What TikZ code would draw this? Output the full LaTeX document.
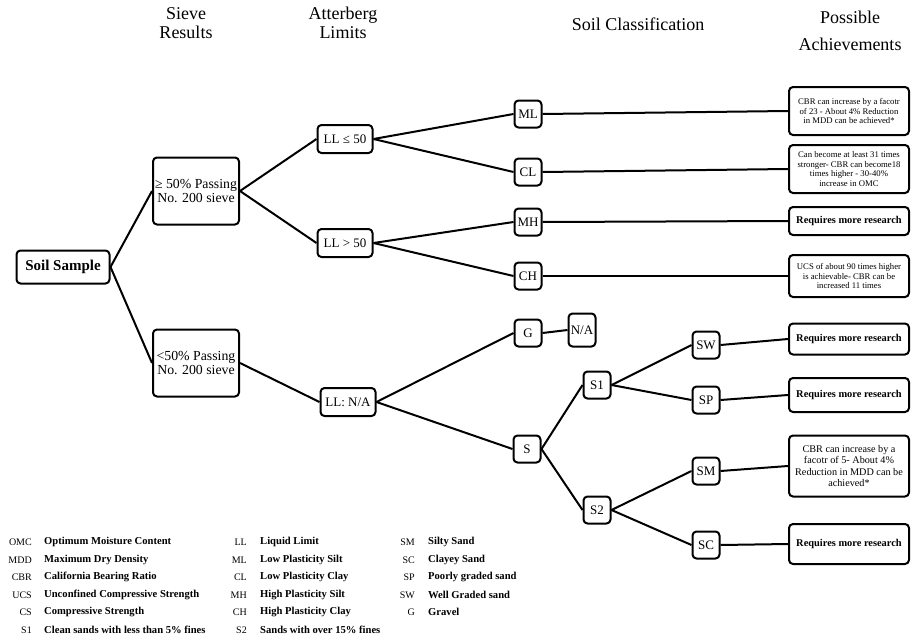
\documentclass[tikz,border=0pt]{standalone}
\usepackage{fontspec}
\setmainfont{Liberation Serif}
\usetikzlibrary{positioning}
\tikzset{
    box/.style={
        rectangle, rounded corners=4pt, draw=black, line width=2pt,
        inner sep=1pt, align=center, font=\fontsize{13}{13.5}\selectfont
    },
    rootbox/.style={box, minimum width=93pt, minimum height=33pt, font=\fontsize{15}{15}\selectfont\bfseries},
    sievebox/.style={box, minimum width=86pt, minimum height=67pt, font=\fontsize{13.8}{14}\selectfont},
    llbox/.style={box, minimum width=55pt, minimum height=28pt},
    classbox/.style={box, minimum width=27pt, minimum height=27pt},
    resbox/.style={box, minimum width=120pt, font=\fontsize{8.7}{9.4}\selectfont},
    morebox/.style={resbox, font=\fontsize{10.4}{11}\selectfont\bfseries},
    link/.style={line width=2pt},
    head/.style={font=\fontsize{18}{19}\selectfont, align=center},
    abbr/.style={anchor=east, inner sep=0pt, font=\fontsize{10}{11}\selectfont},
    desc/.style={anchor=west, inner sep=0pt, font=\fontsize{10.6}{11}\selectfont\bfseries},
}
\begin{document}
\begin{tikzpicture}[x=1pt, y=-1pt]
    \useasboundingbox (0,0) rectangle (911,640);

    % column headings
    \node[head] (hsieve) at (186, 23) {Sieve\\Results};
    \node[head] (hatter) at (343, 23) {Atterberg\\Limits};
    \node[head] (hclass) at (638, 24) {Soil Classification};
    \node[head, font=\fontsize{18}{27}\selectfont] (hposs) at (850, 31) {Possible\\Achievements};

    % tree
    \node[rootbox] (soil) at (63, 267) {Soil Sample};
    \node[sievebox] (fine) at (196, 191) {≥ 50\% Passing\\No. 200 sieve};
    \node[sievebox] (coarse) at (196, 363) {<50\% Passing\\No. 200 sieve};
    \node[llbox] (lllow) at (345, 139) {LL ≤ 50};
    \node[llbox] (llhigh) at (345, 243) {LL > 50};
    \node[llbox] (llna) at (348, 402) {LL: N/A};

    \node[classbox] (ml) at (528, 114) {ML};
    \node[classbox] (cl) at (528, 172) {CL};
    \node[classbox] (mh) at (528, 222) {MH};
    \node[classbox] (ch) at (528, 276) {CH};
    \node[classbox] (g) at (528, 333) {G};
    \node[classbox, minimum height=33pt] (gna) at (582, 330) {N/A};
    \node[classbox] (s) at (527, 449) {S};
    \node[classbox] (sone) at (597, 385) {S1};
    \node[classbox] (stwo) at (597, 510) {S2};
    \node[classbox] (sw) at (706, 345) {SW};
    \node[classbox] (sp) at (706, 400) {SP};
    \node[classbox] (sm) at (706, 471) {SM};
    \node[classbox] (sc) at (706, 545) {SC};

    % achievements
    \node[resbox, minimum height=48pt] (mlres) at (849, 111) {CBR can increase by a facotr\\of 23 - About 4\% Reduction\\in MDD can be achieved*};
    \node[resbox, minimum height=48pt] (clres) at (849, 169) {Can become at least 31 times\\stronger- CBR can become18\\times higher - 30-40\%\\increase in OMC};
    \node[morebox, minimum height=28pt] (mhres) at (849, 221) {Requires more research};
    \node[resbox, minimum height=42pt] (chres) at (849, 276) {UCS of about 90 times higher\\is achievable- CBR can be\\increased 11 times};
    \node[morebox, minimum height=31pt] (swres) at (849, 339) {Requires more research};
    \node[morebox, minimum height=34pt] (spres) at (849, 395) {Requires more research};
    \node[resbox, minimum height=61pt, font=\fontsize{10.2}{11.5}\selectfont] (smres) at (849, 466) {CBR can increase by a\\facotr of 5- About 4\%\\Reduction in MDD can be\\achieved*};
    \node[morebox, minimum height=40pt] (scres) at (849, 544) {Requires more research};

    \draw[link] (soil.east) -- (fine.west);
    \draw[link] (soil.east) -- (coarse.west);
    \draw[link] (fine.east) -- (lllow.west);
    \draw[link] (fine.east) -- (llhigh.west);
    \draw[link] (coarse.east) -- (llna.west);
    \draw[link] (lllow.east) -- (ml.west);
    \draw[link] (lllow.east) -- (cl.west);
    \draw[link] (llhigh.east) -- (mh.west);
    \draw[link] (llhigh.east) -- (ch.west);
    \draw[link] (llna.east) -- (g.west);
    \draw[link] (llna.east) -- (s.west);
    \draw[link] (g.east) -- (gna.west);
    \draw[link] (s.east) -- (sone.west);
    \draw[link] (s.east) -- (stwo.west);
    \draw[link] (sone.east) -- (sw.west);
    \draw[link] (sone.east) -- (sp.west);
    \draw[link] (stwo.east) -- (sm.west);
    \draw[link] (stwo.east) -- (sc.west);
    \draw[link] (ml.east) -- (mlres.west);
    \draw[link] (cl.east) -- (clres.west);
    \draw[link] (mh.east) -- (mhres.west);
    \draw[link] (ch.east) -- (chres.west);
    \draw[link] (sw.east) -- (swres.west);
    \draw[link] (sp.east) -- (spres.west);
    \draw[link] (sm.east) -- (smres.west);
    \draw[link] (sc.east) -- (scres.west);

    % legend
    \node[abbr] (omca) at (32, 542) {OMC};
    \node[desc] (omcd) at (44, 542) {Optimum Moisture Content};
    \node[abbr] (mdda) at (32, 560) {MDD};
    \node[desc] (mddd) at (44, 560) {Maximum Dry Density};
    \node[abbr] (cbra) at (32, 577) {CBR};
    \node[desc] (cbrd) at (44, 577) {California Bearing Ratio};
    \node[abbr] (ucsa) at (32, 595) {UCS};
    \node[desc] (ucsd) at (44, 595) {Unconfined Compressive Strength};
    \node[abbr] (csa) at (32, 612) {CS};
    \node[desc] (csd) at (44, 612) {Compressive Strength};
    \node[abbr] (sonea) at (32, 630) {S1};
    \node[desc] (soned) at (44, 630) {Clean sands with less than 5\% fines};

    \node[abbr] (lla) at (247, 542) {LL};
    \node[desc] (lld) at (260, 542) {Liquid Limit};
    \node[abbr] (mla) at (247, 560) {ML};
    \node[desc] (mld) at (260, 560) {Low Plasticity Silt};
    \node[abbr] (cla) at (247, 577) {CL};
    \node[desc] (cld) at (260, 577) {Low Plasticity Clay};
    \node[abbr] (mha) at (247, 595) {MH};
    \node[desc] (mhd) at (260, 595) {High Plasticity Silt};
    \node[abbr] (cha) at (247, 612) {CH};
    \node[desc] (chd) at (260, 612) {High Plasticity Clay};
    \node[abbr] (stwoa) at (247, 630) {S2};
    \node[desc] (stwod) at (260, 630) {Sands with over 15\% fines};

    \node[abbr] (sma) at (415, 542) {SM};
    \node[desc] (smd) at (428, 542) {Silty Sand};
    \node[abbr] (sca) at (415, 560) {SC};
    \node[desc] (scd) at (428, 560) {Clayey Sand};
    \node[abbr] (spa) at (415, 577) {SP};
    \node[desc] (spd) at (428, 577) {Poorly graded sand};
    \node[abbr] (swa) at (415, 595) {SW};
    \node[desc] (swd) at (428, 595) {Well Graded sand};
    \node[abbr] (ga) at (415, 612) {G};
    \node[desc] (gd) at (428, 612) {Gravel};
\end{tikzpicture}
\end{document}
